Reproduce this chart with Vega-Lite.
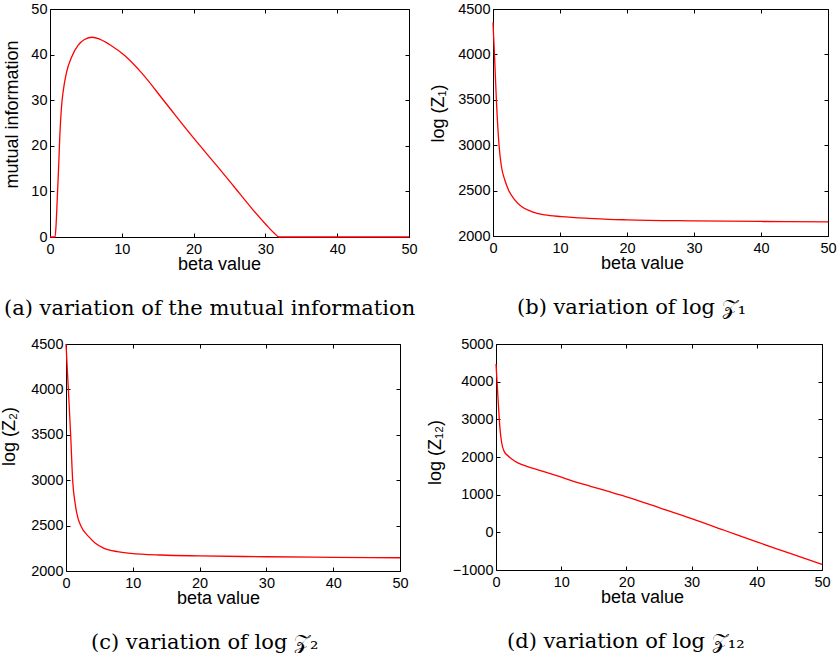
{
  "$schema": "https://vega.github.io/schema/vega-lite/v6.json",
  "background": "white",
  "padding": {"left": 0, "top": 0, "right": 0, "bottom": 0},
  "spacing": 16,
  "bounds": "full",
  "config": {
    "view": {"stroke": "#000", "strokeWidth": 1},
    "axis": {
      "domain": false, "grid": false,
      "tickColor": "#000", "tickSize": -4, "tickWidth": 1,
      "labelFont": "Liberation Sans", "labelFontSize": 14.5, "labelColor": "#000",
      "labelFlush": false, "labelOverlap": false, "format": "d",
      "titleFont": "Liberation Sans", "titleFontSize": 18, "titleFontWeight": "normal", "titleColor": "#000"
    },
    "axisBottom": {"labelPadding": 9, "titlePadding": 0},
    "axisLeft": {"labelPadding": 7},
    "title": {"font": "DejaVu Serif", "fontSize": 21, "fontWeight": "normal", "color": "#000", "orient": "bottom", "anchor": "start", "frame": "group", "offset": 24},
    "line": {"color": "#ff0000", "strokeWidth": 1.3, "interpolate": "monotone"}
  },
  "vconcat": [
    {
      "hconcat": [
        {
          "width": 359, "height": 228,
          "title": {"text": "(a) variation of the mutual information", "dx": -46},
          "data": {"values": [
            {"beta": 0, "v": 0}, {"beta": 0.7, "v": 0}, {"beta": 0.83, "v": 2.2}, {"beta": 1.0, "v": 8},
            {"beta": 1.2, "v": 15.3}, {"beta": 1.38, "v": 22.6}, {"beta": 1.6, "v": 28.5}, {"beta": 1.85, "v": 32.1},
            {"beta": 2.3, "v": 36.1}, {"beta": 3.0, "v": 39.4}, {"beta": 3.9, "v": 42.0}, {"beta": 4.8, "v": 43.3},
            {"beta": 5.9, "v": 43.8}, {"beta": 6.9, "v": 43.4}, {"beta": 8.5, "v": 42.0}, {"beta": 10.4, "v": 39.8},
            {"beta": 12.7, "v": 36.1}, {"beta": 16.0, "v": 29.6}, {"beta": 19.9, "v": 21.9}, {"beta": 23.2, "v": 15.7},
            {"beta": 25.5, "v": 11.3}, {"beta": 28.3, "v": 5.9}, {"beta": 30.1, "v": 2.7}, {"beta": 31.2, "v": 0.9},
            {"beta": 31.9, "v": 0}, {"beta": 50, "v": 0}
          ]},
          "layer": [
            {
              "mark": {"type": "line"},
              "encoding": {
                "x": {"field": "beta", "type": "quantitative", "scale": {"domain": [0, 50], "nice": false},
                      "axis": {"title": "beta value", "values": [0, 10, 20, 30, 40, 50], "titleX": 169}},
                "y": {"field": "v", "type": "quantitative", "scale": {"domain": [0, 50], "nice": false},
                      "axis": {"title": "mutual information", "values": [0, 10, 20, 30, 40, 50], "titleY": 105, "titlePadding": 9}}
              }
            },
            {
              "mark": {"type": "line", "opacity": 0},
              "encoding": {
                "x": {"field": "beta", "type": "quantitative", "scale": {"domain": [0, 50], "nice": false},
                      "axis": {"orient": "top", "labels": false, "title": null, "values": [0, 10, 20, 30, 40, 50]}},
                "y": {"field": "v", "type": "quantitative", "scale": {"domain": [0, 50], "nice": false},
                      "axis": {"orient": "right", "labels": false, "title": null, "values": [0, 10, 20, 30, 40, 50]}}
              }
            }
          ],
          "resolve": {"axis": {"x": "independent", "y": "independent"}}
        },
        {
          "width": 335, "height": 227,
          "title": {"text": "(b) variation of log 𝒵₁", "dx": 24},
          "data": {"values": [
            {"beta": 0, "v": 4352}, {"beta": 0.25, "v": 3947}, {"beta": 0.5, "v": 3504}, {"beta": 0.9, "v": 3000},
            {"beta": 1.25, "v": 2768}, {"beta": 1.75, "v": 2620}, {"beta": 2.35, "v": 2502}, {"beta": 3.25, "v": 2398},
            {"beta": 4.25, "v": 2324}, {"beta": 5.75, "v": 2269}, {"beta": 7.75, "v": 2232}, {"beta": 10.25, "v": 2214},
            {"beta": 14.25, "v": 2195}, {"beta": 17.25, "v": 2184}, {"beta": 20, "v": 2178}, {"beta": 30, "v": 2167},
            {"beta": 40, "v": 2160}, {"beta": 50, "v": 2155}
          ]},
          "layer": [
            {
              "mark": {"type": "line"},
              "encoding": {
                "x": {"field": "beta", "type": "quantitative", "scale": {"domain": [0, 50], "nice": false},
                      "axis": {"title": "beta value", "values": [0, 10, 20, 30, 40, 50], "titleX": 149}},
                "y": {"field": "v", "type": "quantitative", "scale": {"domain": [2000, 4500], "nice": false},
                      "axis": {"title": "log (Z₁)", "values": [2000, 2500, 3000, 3500, 4000, 4500], "titleY": 104, "titlePadding": 10}}
              }
            },
            {
              "mark": {"type": "line", "opacity": 0},
              "encoding": {
                "x": {"field": "beta", "type": "quantitative", "scale": {"domain": [0, 50], "nice": false},
                      "axis": {"orient": "top", "labels": false, "title": null, "values": [0, 10, 20, 30, 40, 50]}},
                "y": {"field": "v", "type": "quantitative", "scale": {"domain": [2000, 4500], "nice": false},
                      "axis": {"orient": "right", "labels": false, "title": null, "values": [2000, 2500, 3000, 3500, 4000, 4500]}}
              }
            }
          ],
          "resolve": {"axis": {"x": "independent", "y": "independent"}}
        }
      ],
      "spacing": 84,
      "bounds": "flush"
    },
    {
      "hconcat": [
        {
          "width": 16, "height": 10,
          "view": {"stroke": null},
          "data": {"values": []},
          "mark": {"type": "point", "opacity": 0},
          "encoding": {}
        },
        {
          "hconcat": [
            {
              "width": 334, "height": 227,
              "title": {"text": "(c) variation of log 𝒵₂", "dx": 25},
              "data": {"values": [
                {"beta": 0, "v": 4500}, {"beta": 0.2, "v": 4214}, {"beta": 0.46, "v": 3847}, {"beta": 0.71, "v": 3479},
                {"beta": 1.0, "v": 2995}, {"beta": 1.37, "v": 2745}, {"beta": 1.73, "v": 2598}, {"beta": 2.23, "v": 2496},
                {"beta": 3.4, "v": 2378}, {"beta": 4.4, "v": 2305}, {"beta": 5.7, "v": 2250}, {"beta": 7.7, "v": 2213},
                {"beta": 9.7, "v": 2195}, {"beta": 14.3, "v": 2176}, {"beta": 20, "v": 2166}, {"beta": 30, "v": 2157},
                {"beta": 40, "v": 2150}, {"beta": 50, "v": 2146}
              ]},
              "layer": [
                {
                  "mark": {"type": "line"},
                  "encoding": {
                    "x": {"field": "beta", "type": "quantitative", "scale": {"domain": [0, 50], "nice": false},
                          "axis": {"title": "beta value", "values": [0, 10, 20, 30, 40, 50], "titleX": 152}},
                    "y": {"field": "v", "type": "quantitative", "scale": {"domain": [2000, 4500], "nice": false},
                          "axis": {"title": "log (Z₂)", "values": [2000, 2500, 3000, 3500, 4000, 4500], "titleY": 92, "titlePadding": 12}}
                  }
                },
                {
                  "mark": {"type": "line", "opacity": 0},
                  "encoding": {
                    "x": {"field": "beta", "type": "quantitative", "scale": {"domain": [0, 50], "nice": false},
                          "axis": {"orient": "top", "labels": false, "title": null, "values": [0, 10, 20, 30, 40, 50]}},
                    "y": {"field": "v", "type": "quantitative", "scale": {"domain": [2000, 4500], "nice": false},
                          "axis": {"orient": "right", "labels": false, "title": null, "values": [2000, 2500, 3000, 3500, 4000, 4500]}}
                  }
                }
              ],
              "resolve": {"axis": {"x": "independent", "y": "independent"}}
            },
            {
              "width": 326, "height": 226,
              "title": {"text": "(d) variation of log 𝒵₁₂", "dx": 11},
              "data": {"values": [
                {"beta": 0, "v": 4467}, {"beta": 0.2, "v": 3889}, {"beta": 0.41, "v": 3267}, {"beta": 0.62, "v": 2733},
                {"beta": 0.87, "v": 2378}, {"beta": 1.23, "v": 2156}, {"beta": 1.9, "v": 2022}, {"beta": 2.9, "v": 1889},
                {"beta": 4.2, "v": 1782}, {"beta": 6.8, "v": 1640}, {"beta": 9.3, "v": 1507}, {"beta": 11.9, "v": 1356},
                {"beta": 14.5, "v": 1222}, {"beta": 17.5, "v": 1071}, {"beta": 20, "v": 941}, {"beta": 25, "v": 655},
                {"beta": 30, "v": 365}, {"beta": 35, "v": 55}, {"beta": 40, "v": -256}, {"beta": 45, "v": -550},
                {"beta": 50, "v": -849}
              ]},
              "layer": [
                {
                  "mark": {"type": "line"},
                  "encoding": {
                    "x": {"field": "beta", "type": "quantitative", "scale": {"domain": [0, 50], "nice": false},
                          "axis": {"title": "beta value", "values": [0, 10, 20, 30, 40, 50], "titleX": 146}},
                    "y": {"field": "v", "type": "quantitative", "scale": {"domain": [-1000, 5000], "nice": false},
                          "axis": {"title": "log (Z₁₂)", "values": [-1000, 0, 1000, 2000, 3000, 4000, 5000], "titleY": 108, "titlePadding": 8}}
                  }
                },
                {
                  "mark": {"type": "line", "opacity": 0},
                  "encoding": {
                    "x": {"field": "beta", "type": "quantitative", "scale": {"domain": [0, 50], "nice": false},
                          "axis": {"orient": "top", "labels": false, "title": null, "values": [0, 10, 20, 30, 40, 50]}},
                    "y": {"field": "v", "type": "quantitative", "scale": {"domain": [-1000, 5000], "nice": false},
                          "axis": {"orient": "right", "labels": false, "title": null, "values": [-1000, 0, 1000, 2000, 3000, 4000, 5000]}}
                  }
                }
              ],
              "resolve": {"axis": {"x": "independent", "y": "independent"}}
            }
          ],
          "spacing": 96,
          "bounds": "flush"
        }
      ],
      "spacing": 0,
      "bounds": "flush"
    }
  ]
}
